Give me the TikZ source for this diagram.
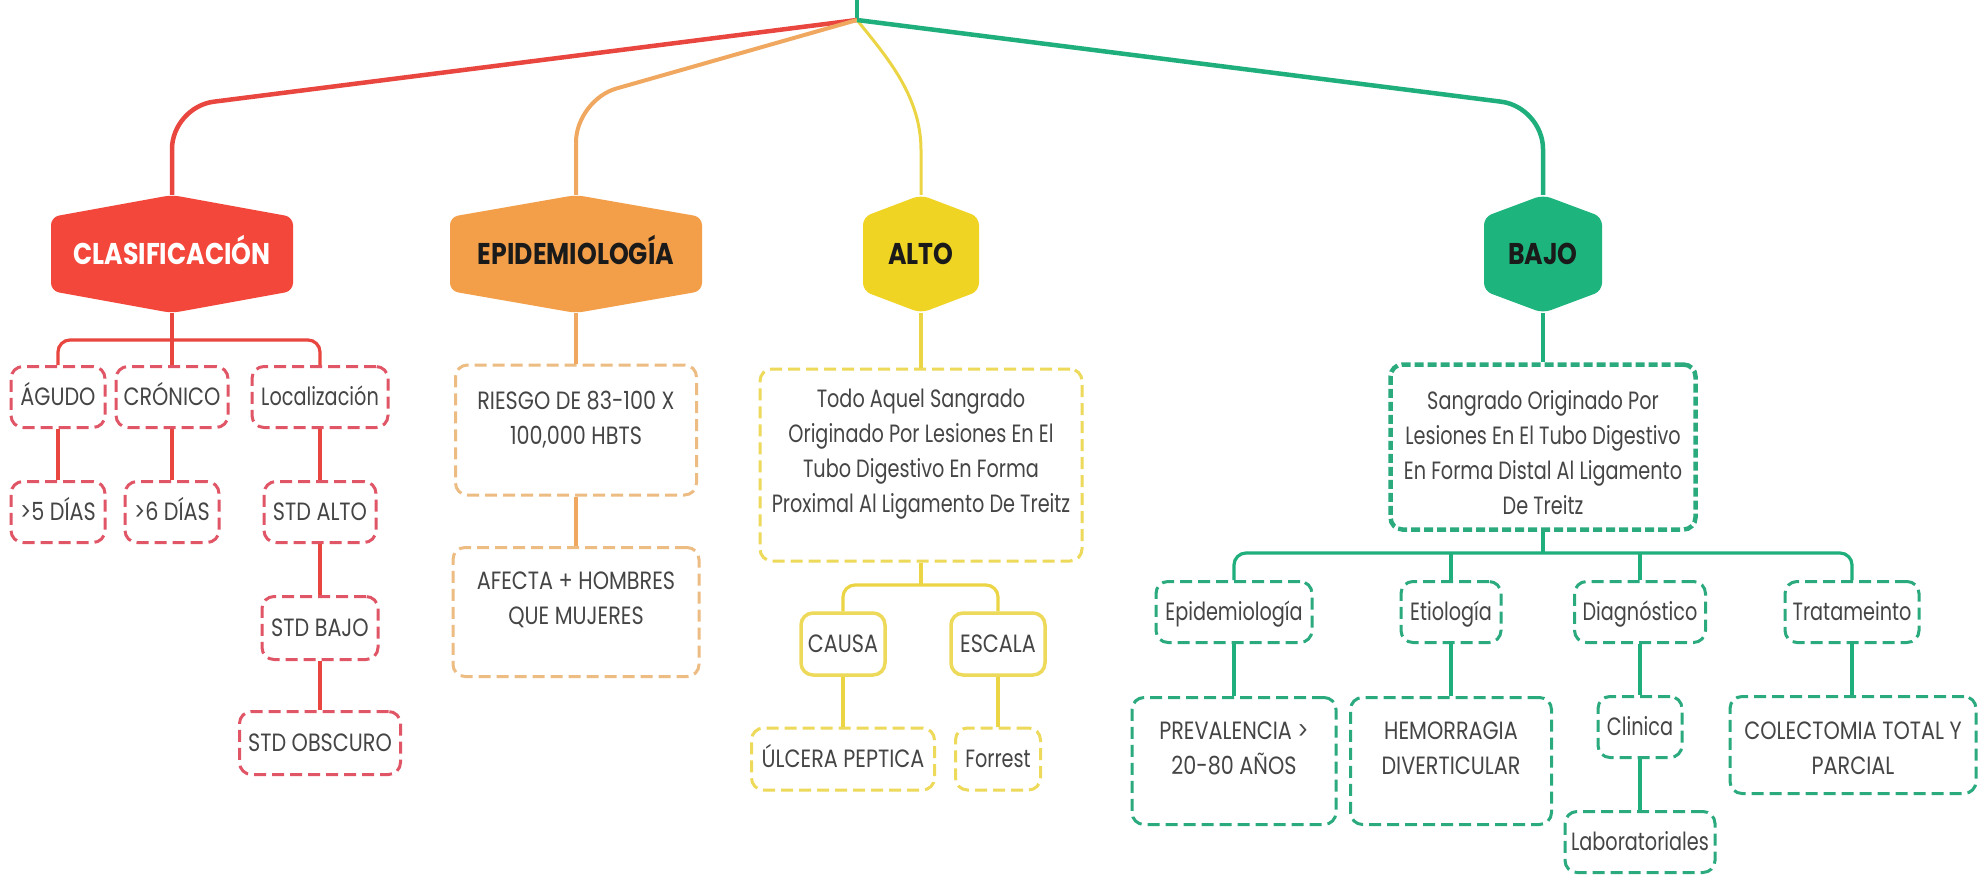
\documentclass[tikz,border=0pt]{standalone}
\usepackage{fontspec}
\setmainfont{Poppins}[FakeStretch=0.77]
\newfontfamily\hexfont{Poppins}[FakeStretch=0.84]
\newfontfamily\capfont{Poppins}[FakeStretch=0.83]
\usetikzlibrary{calc}
\definecolor{redH}{HTML}{F3473B}
\definecolor{redL}{HTML}{E8463F}
\definecolor{redB}{HTML}{E05666}
\definecolor{oraH}{HTML}{F39F4A}
\definecolor{oraL}{HTML}{F0A860}
\definecolor{oraB}{HTML}{EDBC82}
\definecolor{yelH}{HTML}{F0D424}
\definecolor{yelL}{HTML}{ECD544}
\definecolor{yelB}{HTML}{EEDA5A}
\definecolor{grnH}{HTML}{1DB47E}
\definecolor{grnL}{HTML}{1FAF7C}
\definecolor{grnB}{HTML}{2BAA7E}
\definecolor{txt}{HTML}{454545}
\definecolor{hextxt}{HTML}{1A1A1A}
\newcommand\hexa[5]{\fill[#5, rounded corners=8pt] (#1,#2-#4) -- (#1+#3,#2-#4+22) -- (#1+#3,#2+#4-22) -- (#1,#2+#4) -- (#1-#3,#2+#4-22) -- (#1-#3,#2-#4+22) -- cycle;}
\begin{document}
\begin{tikzpicture}[x=1pt,y=-1pt,
  conn/.style={line width=3.2pt},
  box/.style={rounded corners=12pt, line width=3pt, dash pattern=on 12pt off 6pt, inner sep=0pt, align=center, text=txt, font=\fontsize{25}{35}\selectfont},
  box1/.style={box, text height=17.5pt, text depth=0pt},
  cap1/.style={box1, font=\capfont\fontsize{25}{35}\selectfont},
  lbl/.style={inner sep=0pt, align=center, text=txt, font=\fontsize{25}{35}\selectfont},
  caplbl/.style={lbl, font=\capfont\fontsize{25}{35}\selectfont},
  hexlbl/.style={inner sep=0pt, minimum height=118pt, text height=21pt, text depth=0pt, font=\hexfont\bfseries\fontsize{30}{34}\selectfont, text=hextxt},
  sz/.style 2 args={minimum width=#1pt, minimum height=#2pt}]
\fill[white] (0,0) rectangle (1980,876);
\useasboundingbox (0,0) rectangle (1980,876);

% hexagons
\hexa{172}{254}{121}{59}{redH}
\hexa{576}{254}{126}{59}{oraH}
\hexa{921}{254}{58}{59}{yelH}
\hexa{1543}{254}{59}{59}{grnH}
\node[hexlbl, text=white] (clas) at (172,254) {CLASIFICACIÓN};
\node[hexlbl] (epi) at (576,254) {EPIDEMIOLOGÍA};
\node[hexlbl] (alto) at (921,254) {ALTO};
\node[hexlbl] (bajo) at (1543,254) {BAJO};

% top connectors
\coordinate (top) at (857,0);
\coordinate (root) at (857,20);
\coordinate (redc) at (172,107);
\coordinate (orac) at (576,100);
\coordinate (grnc) at (1543,107);
\draw[grnL, line width=4.5pt] (top) -- (root);
\draw[redL, line width=4.5pt, rounded corners=42pt] (root) -- (redc) -- (clas.north);
\draw[oraL, line width=4pt, rounded corners=42pt] (root) -- (orac) -- (epi.north);
\draw[yelL, line width=3pt] (root) .. controls (885,55) and (921,95) .. (921,150) -- (alto.north);
\draw[grnL, line width=4.5pt, rounded corners=42pt] (root) -- (grnc) -- (bajo.north);

% red branch
\begin{scope}[every node/.append style={draw=redB}]
\node[cap1, sz={94}{61}] (agudo) at (58,397) {ÁGUDO};
\node[cap1, sz={112}{61}] (cronico) at (172,397) {CRÓNICO};
\node[box1, sz={136}{61}] (loc) at (320,397) {Localización};
\node[cap1, sz={94}{61}] (d5) at (58,512) {>5 DÍAS};
\node[cap1, sz={94}{61}] (d6) at (172,512) {>6 DÍAS};
\node[cap1, sz={112}{61}] (stdalto) at (320,512) {STD ALTO};
\node[cap1, sz={116}{63}] (stdbajo) at (320,628) {STD BAJO};
\node[cap1, sz={161}{63}] (stdobs) at (320,743) {STD OBSCURO};
\end{scope}
\coordinate (redbus) at (172,340);
\draw[conn, redL] (clas.south) -- (cronico.north);
\draw[conn, redL, rounded corners=12pt] (agudo.north) |- (redbus) -| (loc.north);
\draw[conn, redL] (agudo.south) -- (d5.north);
\draw[conn, redL] (cronico.south) -- (d6.north);
\draw[conn, redL] (loc.south) -- (stdalto.north);
\draw[conn, redL] (stdalto.south) -- (stdbajo.north);
\draw[conn, redL] (stdbajo.south) -- (stdobs.north);

% orange branch
\node[box, draw=oraB, sz={241}{130}] (riesgo) at (576,430) {};
\node[caplbl] (riesgoT) at (576,420) {RIESGO DE 83-100 X\\100,000 HBTS};
\node[box, draw=oraB, sz={246}{129}] (afecta) at (576,612) {};
\node[caplbl] (afectaT) at (576,600) {AFECTA + HOMBRES\\QUE MUJERES};
\draw[conn, oraL] (epi.south) -- (riesgo.north);
\draw[conn, oraL] (riesgo.south) -- (afecta.north);

% yellow branch
\node[box, draw=yelB, sz={322}{192}] (todo) at (921,465) {};
\node[lbl] (todoT) at (921,454) {Todo Aquel Sangrado\\Originado Por Lesiones En El\\Tubo Digestivo En Forma\\Proximal Al Ligamento De Treitz};
\node[cap1, draw=yelB, solid, line width=3.5pt, sz={84}{62}] (causa) at (843,644) {CAUSA};
\node[cap1, draw=yelB, solid, line width=3.5pt, sz={94}{62}] (escala) at (998,644) {ESCALA};
\node[cap1, draw=yelB, sz={183}{62}] (ulcera) at (843,759) {ÚLCERA PEPTICA};
\node[box1, draw=yelB, sz={85}{62}] (forrest) at (998,759) {Forrest};
\coordinate (yelbus) at (921,585);
\draw[conn, yelL] (alto.south) -- (todo.north);
\draw[conn, yelL] (todo.south) -- (yelbus);
\draw[conn, yelL, rounded corners=12pt] (causa.north) |- (yelbus) -| (escala.north);
\draw[conn, yelL] (causa.south) -- (ulcera.north);
\draw[conn, yelL] (escala.south) -- (forrest.north);

% green branch
\node[box, draw=grnB, line width=4.5pt, dash pattern=on 9pt off 4pt, sz={305}{165}] (sang) at (1543,447) {};
\node[lbl] (sangT) at (1543,453) {Sangrado Originado Por\\Lesiones En El Tubo Digestivo\\En Forma Distal Al Ligamento\\De Treitz};
\begin{scope}[every node/.append style={draw=grnB}]
\node[box1, sz={156}{61}] (epi2) at (1234,612) {Epidemiología};
\node[box1, sz={100}{61}] (etio) at (1451,612) {Etiología};
\node[box1, sz={131}{61}] (diag) at (1640,612) {Diagnóstico};
\node[box1, sz={134}{61}] (trat) at (1852,612) {Tratameinto};
\node[box, sz={204}{127}] (prev) at (1234,761) {};
\node[box, sz={201}{127}] (hemo) at (1451,761) {};
\node[box1, sz={84}{61}] (clin) at (1640,727) {Clinica};
\node[box1, sz={150}{61}] (lab) at (1640,842) {Laboratoriales};
\node[box, sz={246}{97}] (cole) at (1853,745) {};
\end{scope}
\node[caplbl] (prevT) at (1234,748) {PREVALENCIA >\\20-80 AÑOS};
\node[caplbl] (hemoT) at (1451,748) {HEMORRAGIA\\DIVERTICULAR};
\node[caplbl] (coleT) at (1853,748) {COLECTOMIA TOTAL Y\\PARCIAL};
\coordinate (grnbus) at (1543,553);
\draw[conn, grnL] (bajo.south) -- (sang.north);
\draw[conn, grnL] (sang.south) -- (grnbus);
\draw[conn, grnL, rounded corners=12pt] (epi2.north) |- (grnbus) -| (trat.north);
\draw[conn, grnL] (etio.north) -- (etio.north |- grnbus);
\draw[conn, grnL] (diag.north) -- (diag.north |- grnbus);
\draw[conn, grnL] (epi2.south) -- (prev.north);
\draw[conn, grnL] (etio.south) -- (hemo.north);
\draw[conn, grnL] (diag.south) -- (clin.north);
\draw[conn, grnL] (clin.south) -- (lab.north);
\draw[conn, grnL] (trat.south) -- (trat.south |- cole.north);
\end{tikzpicture}
\end{document}
